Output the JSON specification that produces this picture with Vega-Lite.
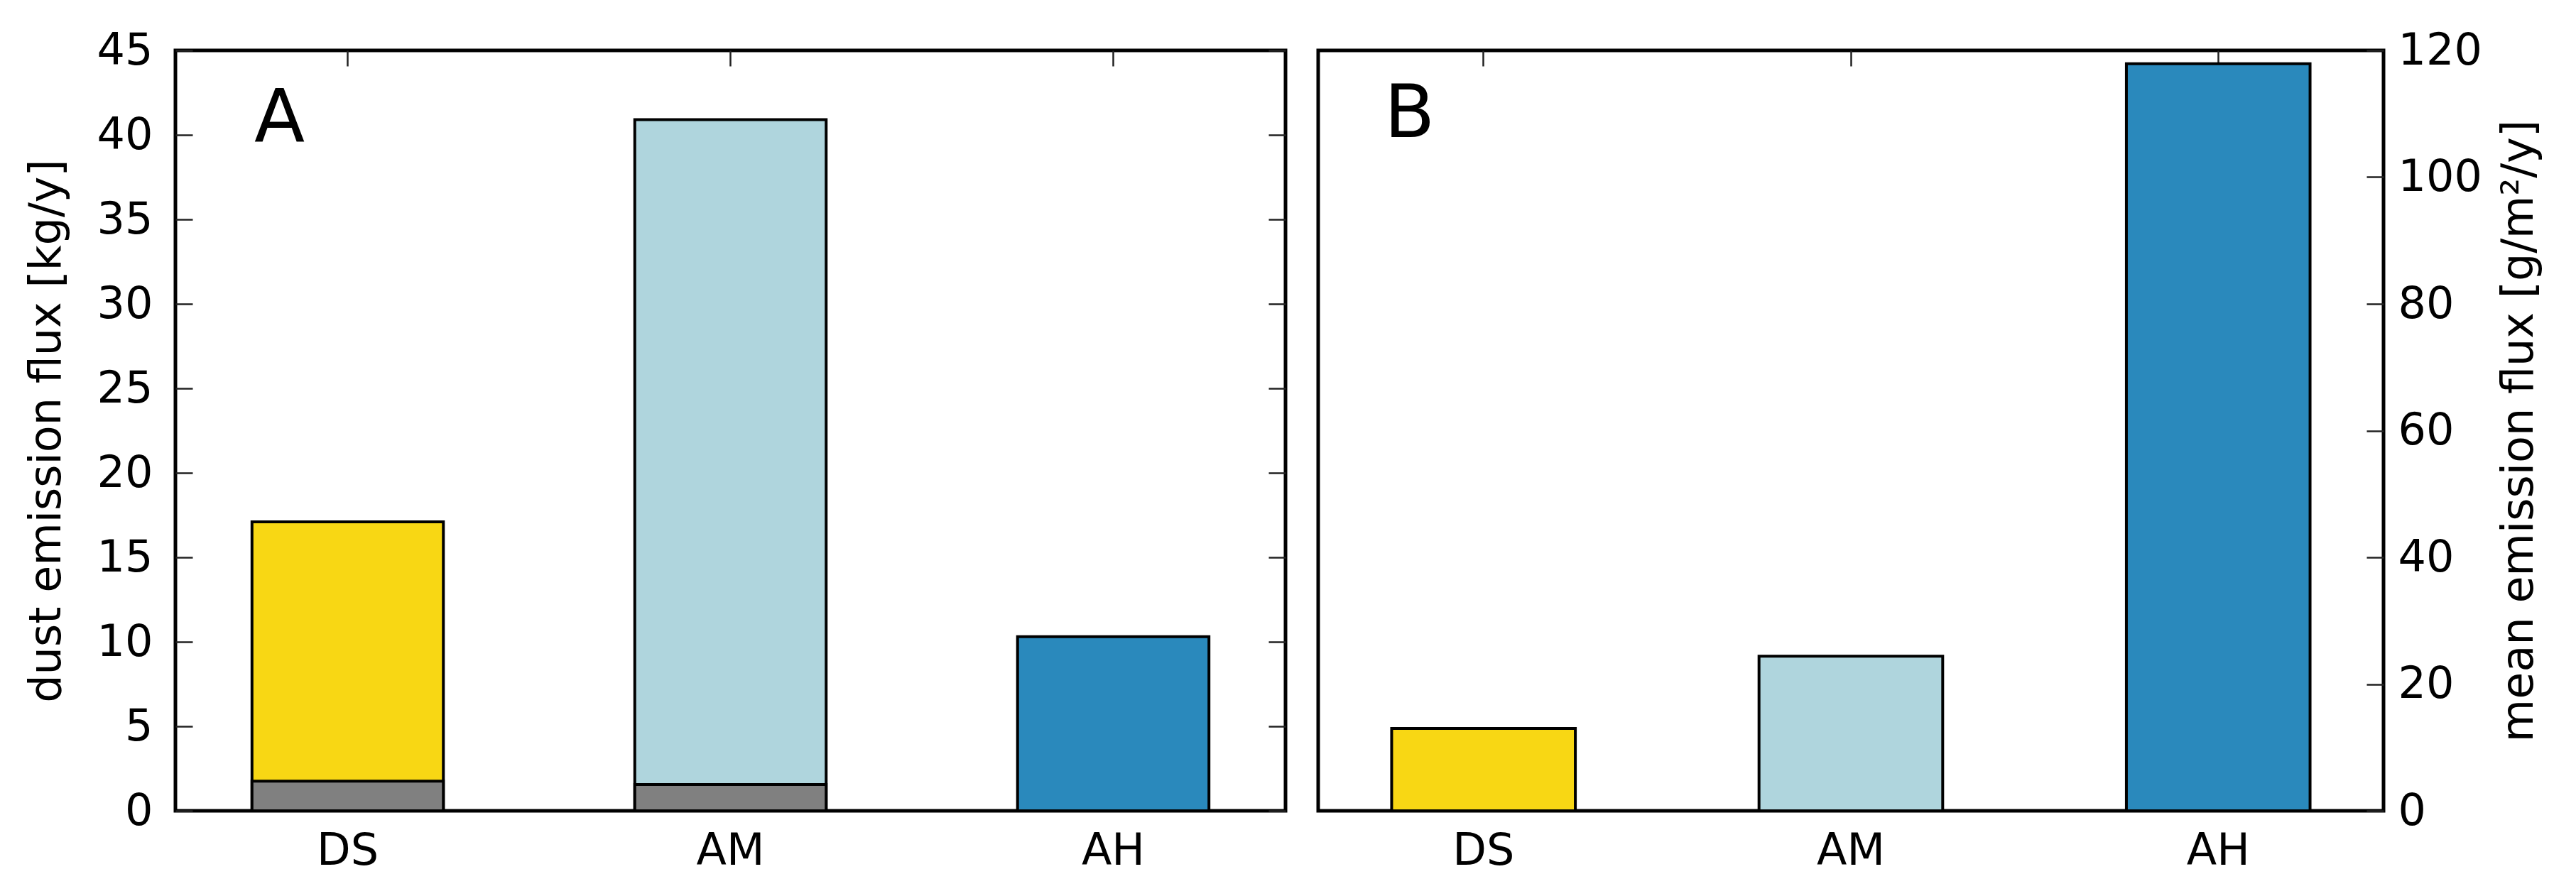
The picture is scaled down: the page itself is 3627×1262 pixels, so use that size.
{
  "$schema": "https://vega.github.io/schema/vega-lite/v6.json",
  "background": "white",
  "padding": {"left": 31, "top": 37, "right": 5, "bottom": 5},
  "config": {
    "font": "DejaVu Sans",
    "view": {"stroke": "black", "strokeWidth": 5},
    "axis": {
      "domain": false,
      "grid": false,
      "labelFont": "DejaVu Sans",
      "labelFontSize": 62,
      "labelColor": "black",
      "titleFont": "DejaVu Sans",
      "titleFontSize": 62,
      "titleFontWeight": "normal",
      "titleColor": "black",
      "tickColor": "#222222",
      "tickWidth": 2.5
    },
    "title": {
      "font": "DejaVu Sans",
      "fontSize": 104,
      "fontWeight": "normal",
      "color": "black",
      "anchor": "start",
      "frame": "group",
      "baseline": "alphabetic"
    }
  },
  "datasets": {
    "emission": [
      {"site": "DS", "total": 17.1, "grey": 1.75},
      {"site": "AM", "total": 40.9, "grey": 1.55},
      {"site": "AH", "total": 10.3, "grey": 0}
    ],
    "mean": [
      {"site": "DS", "flux": 13.0},
      {"site": "AM", "flux": 24.4},
      {"site": "AH", "flux": 117.9}
    ]
  },
  "spacing": 46,
  "bounds": "flush",
  "hconcat": [
    {
      "width": 1563,
      "height": 1071,
      "title": {"text": "A", "dx": 111, "offset": -181},
      "data": {"name": "emission"},
      "layer": [
        {
          "mark": {"type": "bar", "stroke": "black", "strokeWidth": 4},
          "encoding": {
            "x": {
              "field": "site", "type": "nominal",
              "scale": {"domain": ["DS", "AM", "AH"], "paddingInner": 0.5, "paddingOuter": 0.2},
              "axis": {"orient": "bottom", "title": null, "labelAngle": 0, "tickSize": -22, "labelPadding": 48}
            },
            "y": {
              "field": "total", "type": "quantitative",
              "scale": {"domain": [0, 45], "nice": false},
              "axis": {"orient": "left", "values": [0, 5, 10, 15, 20, 25, 30, 35, 40, 45], "title": "dust emission flux [kg/y]", "tickSize": -24, "labelPadding": 56, "titlePadding": 39}
            },
            "color": {
              "field": "site", "type": "nominal",
              "scale": {"domain": ["DS", "AM", "AH"], "range": ["#F8D714", "#AFD5DD", "#2A89BC"]},
              "legend": null
            }
          }
        },
        {
          "transform": [{"filter": "datum.grey > 0"}],
          "mark": {"type": "bar", "fill": "#808080", "stroke": "black", "strokeWidth": 4},
          "encoding": {
            "x": {"field": "site", "type": "nominal", "axis": {"orient": "top", "labels": false, "title": null, "tickSize": -22}},
            "y": {"field": "grey", "type": "quantitative", "axis": {"orient": "right", "labels": false, "title": null, "values": [0, 5, 10, 15, 20, 25, 30, 35, 40, 45], "tickSize": -24}}
          }
        }
      ],
      "resolve": {"axis": {"x": "independent", "y": "independent"}}
    },
    {
      "width": 1500,
      "height": 1071,
      "title": {"text": "B", "dx": 93, "offset": -175},
      "data": {"name": "mean"},
      "layer": [
        {
          "mark": {"type": "bar", "stroke": "black", "strokeWidth": 4},
          "encoding": {
            "x": {
              "field": "site", "type": "nominal",
              "scale": {"domain": ["DS", "AM", "AH"], "paddingInner": 0.5, "paddingOuter": 0.2},
              "axis": {"orient": "bottom", "title": null, "labelAngle": 0, "tickSize": -22, "labelPadding": 48}
            },
            "y": {
              "field": "flux", "type": "quantitative",
              "scale": {"domain": [0, 120], "nice": false},
              "axis": {"orient": "right", "values": [0, 20, 40, 60, 80, 100, 120], "title": "mean emission flux [g/m²/y]", "titleAngle": 270, "tickSize": -24, "labelPadding": 44, "titlePadding": 84}
            },
            "color": {
              "field": "site", "type": "nominal",
              "scale": {"domain": ["DS", "AM", "AH"], "range": ["#F8D714", "#AFD5DD", "#2A89BC"]},
              "legend": null
            }
          }
        },
        {
          "mark": {"type": "bar", "opacity": 0},
          "encoding": {
            "x": {"field": "site", "type": "nominal", "axis": {"orient": "top", "labels": false, "title": null, "tickSize": -22}},
            "y": {"field": "flux", "type": "quantitative", "axis": null}
          }
        }
      ],
      "resolve": {"axis": {"x": "independent", "y": "independent"}}
    }
  ]
}
